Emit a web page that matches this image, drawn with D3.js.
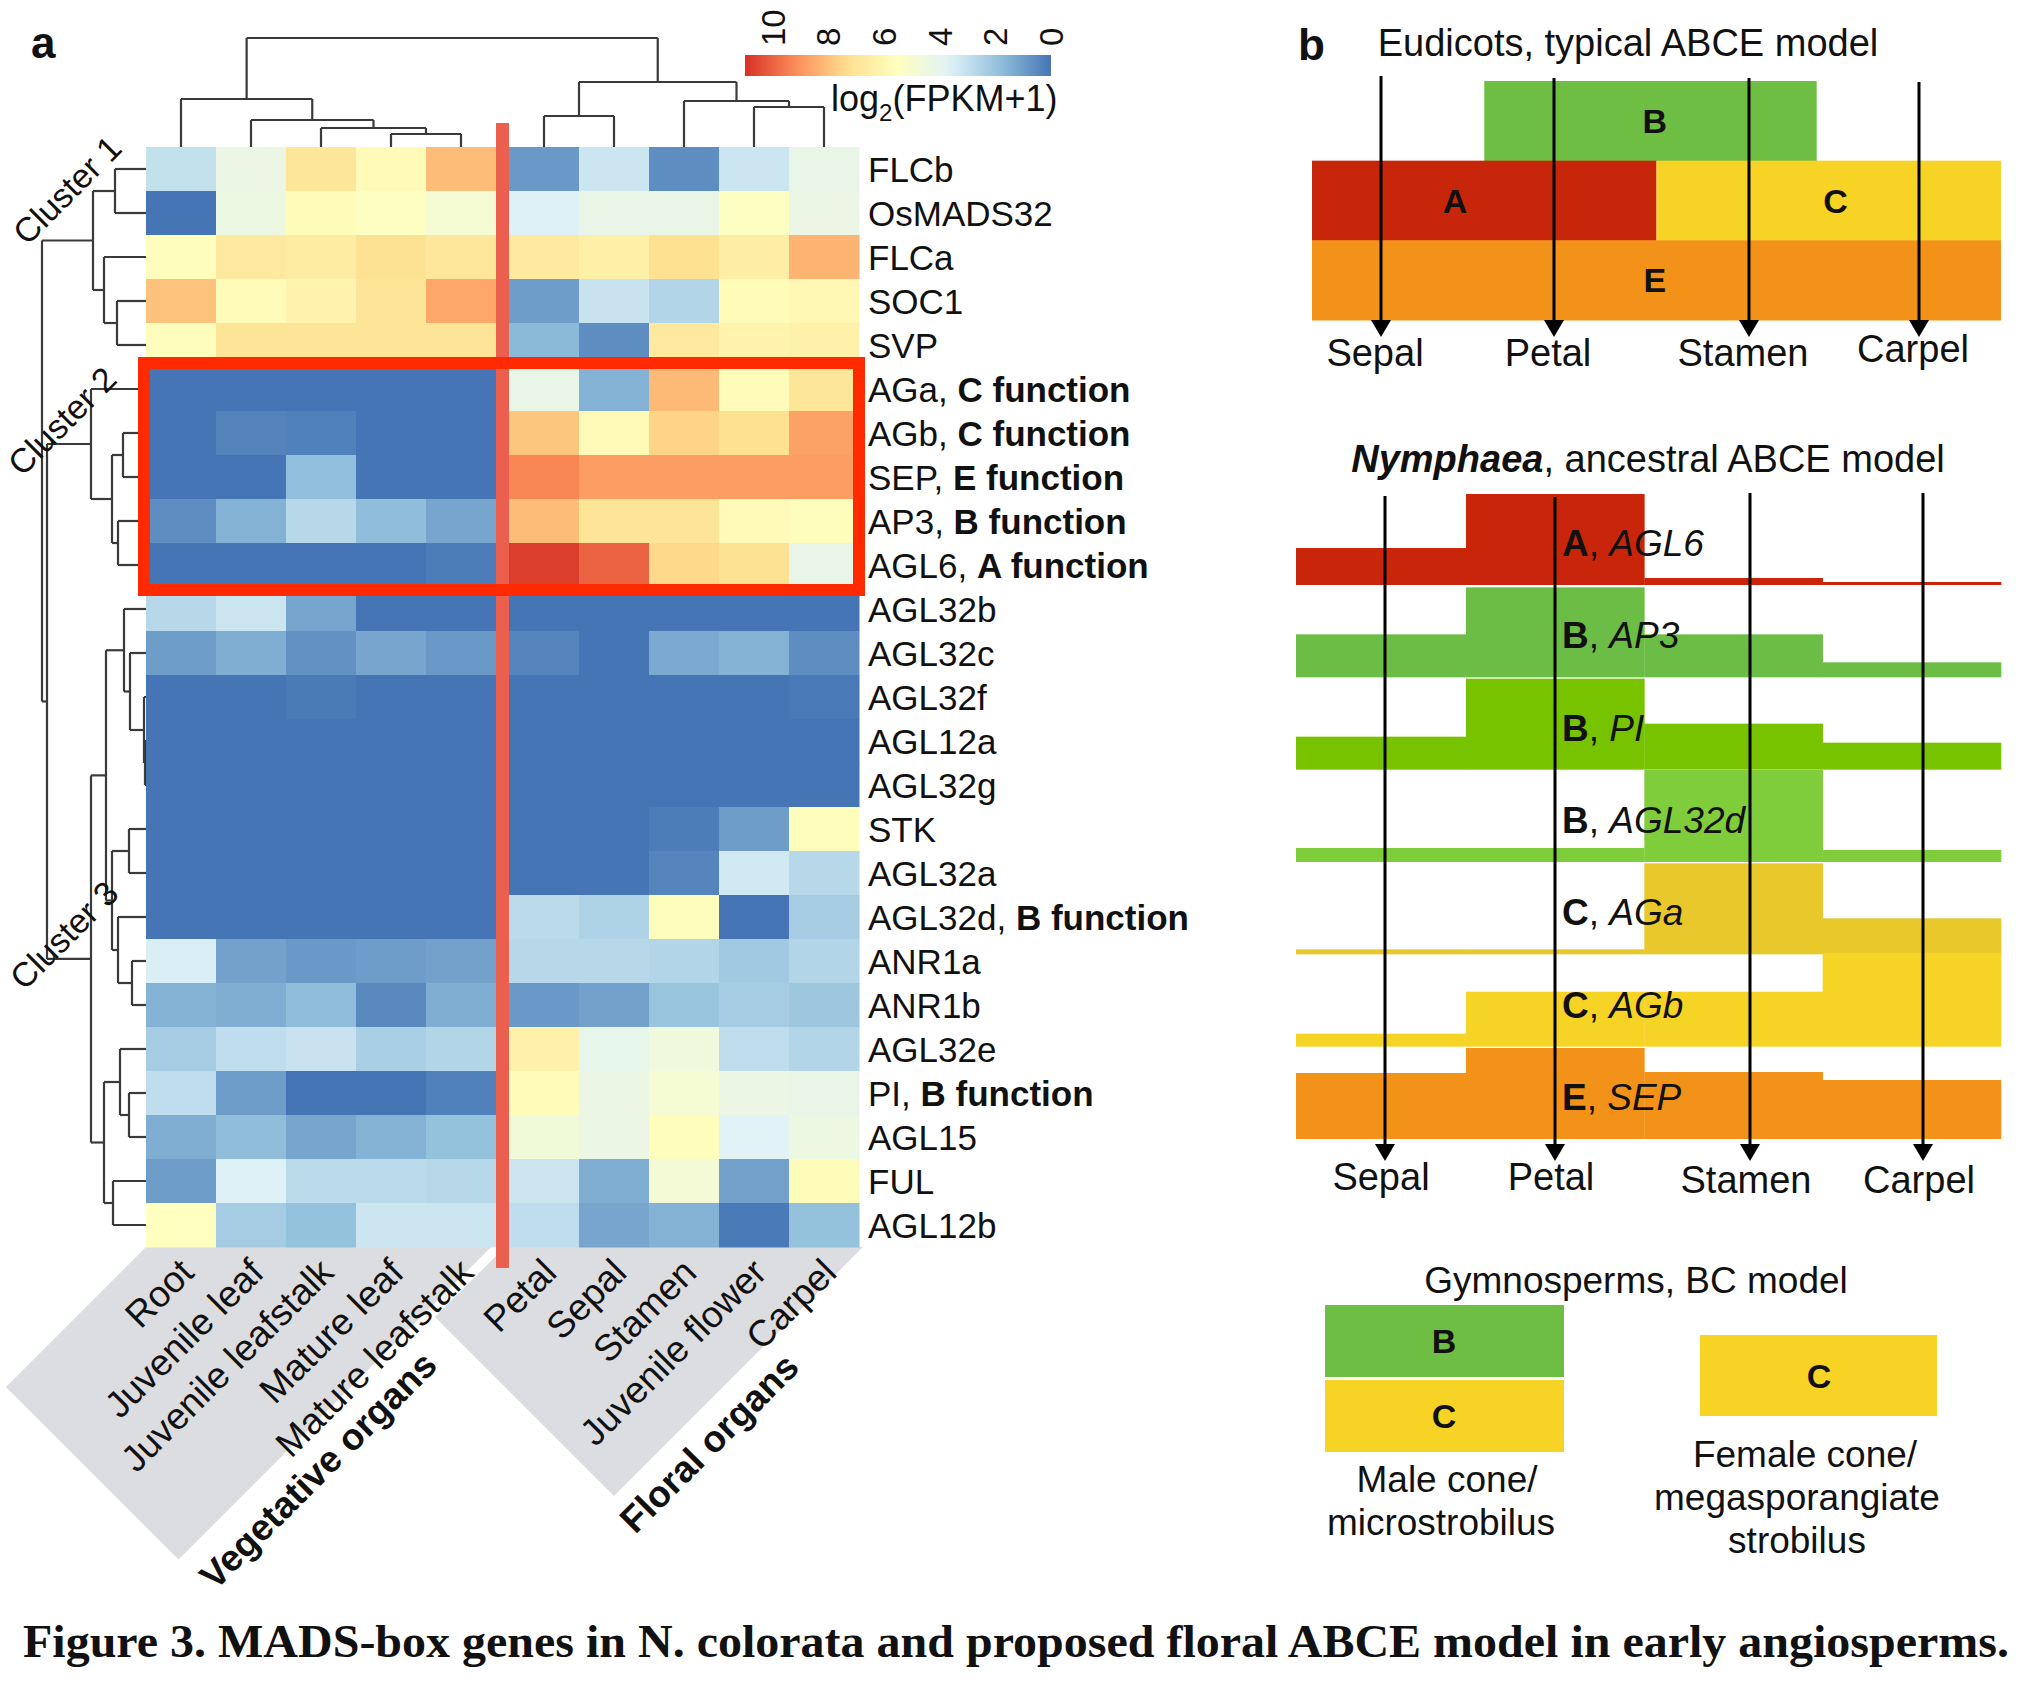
<!DOCTYPE html>
<html><head><meta charset="utf-8">
<script src="https://cdn.jsdelivr.net/npm/d3@7"></script>
<style>
body{margin:0;background:#fff}
svg{display:block}
text{font-family:"Liberation Sans",Arial,Helvetica,sans-serif;fill:#111}
</style>
</head><body>
<svg id="fig" width="2026" height="1684"></svg>
<script>
// ---------------- DATA ----------------
const genes = ["FLCb","OsMADS32","FLCa","SOC1","SVP","AGa","AGb","SEP","AP3","AGL6",
  "AGL32b","AGL32c","AGL32f","AGL12a","AGL32g","STK","AGL32a","AGL32d","ANR1a","ANR1b",
  "AGL32e","PI","AGL15","FUL","AGL12b"];
const geneRoles = ["","","","","","C function","C function","E function","B function","A function",
  "","","","","","","","B function","","","","B function","","",""];
const vegTissues = ["Root","Juvenile leaf","Juvenile leafstalk","Mature leaf","Mature leafstalk"];
const floralTissues = ["Petal","Sepal","Stamen","Juvenile flower","Carpel"];
// log2(FPKM+1), columns: 5 vegetative then 5 floral
const expr = [
  [3.0,4.3,7.0,5.8,8.1, 0.9,3.2,0.6,3.2,4.2],
  [0.0,4.4,5.7,5.4,4.9, 3.6,4.2,4.2,5.4,4.3],
  [5.6,6.8,6.6,7.2,6.9, 6.8,6.4,7.3,6.5,8.3],
  [8.0,5.7,6.2,7.1,8.6, 1.0,3.1,2.6,5.7,5.9],
  [5.6,7.1,7.1,7.1,7.1, 1.7,0.6,6.8,6.2,6.3],
  [0.0,0.0,0.0,0.0,0.0, 4.2,1.5,8.2,5.7,7.0],
  [0.0,0.35,0.3,0.0,0.0, 7.9,5.8,7.6,7.3,8.7],
  [0.0,0.0,1.85,0.0,0.0, 9.3,8.8,8.8,8.8,8.8],
  [0.6,1.5,2.7,1.8,1.2, 8.1,7.1,7.1,5.8,5.6],
  [0.0,0.0,0.0,0.0,0.2, 10.7,10.0,7.5,7.2,4.2],
  [2.7,3.2,1.2,0.0,0.0, 0.0,0.0,0.0,0.0,0.0],
  [1.0,1.4,0.7,1.2,0.9, 0.4,0.0,1.3,1.5,0.6],
  [0.0,0.0,0.15,0.0,0.0, 0.0,0.0,0.0,0.0,0.1],
  [0.0,0.0,0.0,0.0,0.0, 0.0,0.0,0.0,0.0,0.0],
  [0.0,0.0,0.0,0.0,0.0, 0.0,0.0,0.0,0.0,0.0],
  [0.0,0.0,0.0,0.0,0.0, 0.0,0.0,0.2,1.0,5.6],
  [0.0,0.0,0.0,0.0,0.0, 0.0,0.0,0.4,3.3,2.7],
  [0.0,0.0,0.0,0.0,0.0, 2.8,2.5,5.6,0.0,2.3],
  [3.5,1.1,0.9,1.0,1.1, 2.7,2.7,2.6,2.2,2.6],
  [1.5,1.4,1.8,0.5,1.4, 0.9,1.1,2.0,2.3,2.1],
  [2.3,2.9,3.1,2.4,2.6, 6.3,4.1,4.6,2.9,2.6],
  [2.9,1.0,0.0,0.0,0.3, 5.7,4.3,4.9,4.3,4.2],
  [1.4,1.8,1.2,1.5,1.9, 4.7,4.3,5.6,3.7,4.4],
  [1.0,3.6,2.8,2.8,2.7, 3.2,1.4,4.8,1.1,5.7],
  [5.5,2.3,1.9,3.2,3.2, 2.9,1.2,1.5,0.1,1.9]
];
const colorTicks = [10,8,6,4,2,0];
const colorMax = 11;
// dendrograms (merge heights)
const colTree = {h:109, c:[
  {h:48, c:["Root",{h:27,c:["Juvenile leaf",{h:19,c:["Juvenile leafstalk",{h:13,c:["Mature leaf","Mature leafstalk"]}]}]}]},
  {h:65, c:[{h:31,c:["Petal","Sepal"]},{h:46,c:["Stamen",{h:40,c:["Juvenile flower","Carpel"]}]}]}
]};
const rowTree = {h:104, c:[
  {h:53, c:[{h:31,c:["FLCb","OsMADS32"]},{h:42,c:["FLCa",{h:29,c:["SOC1","SVP"]}]}]},
  {h:99, c:[
    {h:55, c:["AGa",{h:34,c:[{h:23,c:["AGb","SEP"]},{h:28,c:["AP3","AGL6"]}]}]},
    {h:55, c:[
      {h:40, c:[
        {h:22, c:["AGL32b",{h:16,c:["AGL32c",{h:2,c:["AGL32f",{h:1,c:["AGL12a","AGL32g"]}]}]}]},
        {h:34, c:[{h:17,c:["STK","AGL32a"]},{h:28,c:["AGL32d",{h:14,c:["ANR1a","ANR1b"]}]}]}
      ]},
      {h:42, c:[{h:26,c:["AGL32e",{h:17,c:["PI","AGL15"]}]},{h:33,c:["FUL","AGL12b"]}]}
    ]}
  ]}
]};
const clusterNames = ["Cluster 1","Cluster 2","Cluster 3"];
const groupNames = ["Vegetative organs","Floral organs"];

// panel b
const organs = ["Sepal","Petal","Stamen","Carpel"];
const eudicotFn = ["B","A","C","E"];
const eudicotRow = [0,1,1,2];
const eudicotStart = [1,0,2,0];
const eudicotEnd = [2.93,2,4,4];
const eudicotLabelAt = [1.99,0.83,3.04,1.99];
const nymphFn = ["A","B","B","B","C","C","E"];
const nymphGene = ["AGL6","AP3","PI","AGL32d","AGa","AGb","SEP"];
const nymphLevels = [
  [37,91,7,3],
  [43,90,43,15],
  [33,91,46,27],
  [14,14,92,12],
  [5,5,91,36],
  [13,55,55,94],
  [66,91,67,59]
];
const gymnoMale = ["B","C"];
const gymnoFemale = ["C"];
const caption = "Figure 3. MADS-box genes in N. colorata and proposed floral ABCE model in early angiosperms.";

// ---------------- STYLE ----------------
const fnColor = {A:"#c8260a", B:"#6fbe44", C:"#f6d325", E:"#f39219"};
const nymphColors = ["#c8250a","#6cbd45","#77c300","#80cd3c","#e8c82a","#f6d426","#f39219"];
const palette = ["#4575B4","#91BFDB","#E0F3F8","#FFFFBF","#FEE090","#FC8D59","#D73027"];

const svg = d3.select("#fig");
svg.append("rect").attr("width",2026).attr("height",1684).attr("fill","#fff");

// ---------------- PANEL A ----------------
const color = d3.scaleLinear().domain(palette.map((c,i)=>i*colorMax/(palette.length-1))).range(palette).clamp(true);
const xVeg = d3.scaleBand().domain(vegTissues).range([146,496]);
const xFlo = d3.scaleBand().domain(floralTissues).range([509,859]);
const allTissues = vegTissues.concat(floralTissues);
const colX = t => vegTissues.includes(t) ? xVeg(t) : xFlo(t);
const colW = xVeg.bandwidth();
const y = d3.scaleBand().domain(genes).range([147,1247]);

const gA = svg.append("g");

// gray label backgrounds: rectangles rotated 45deg, clipped at the heatmap bottom
const hmBottom = y.range()[1];
function diagPoly(x0, x1, d) {
  const u = (x1 - x0) / 2;
  const D = [x0 - d, hmBottom + d];
  const C = [x0 - d + u, hmBottom + d + u];
  return [[x0,hmBottom],[x1,hmBottom],C,D];
}
const vegPoly = diagPoly(xVeg.range()[0], xVeg.range()[1]-5, 140);
const floPoly = diagPoly(xFlo.range()[0]-4, xFlo.range()[1]+4, 70);
[vegPoly, floPoly].forEach(p=>{
  gA.append("polygon").attr("points", p.map(q=>q.join(",")).join(" ")).attr("fill","#dcdde0");
});

// heatmap cells
genes.forEach((g,i)=>{
  allTissues.forEach((t,j)=>{
    gA.append("rect").attr("x",colX(t)).attr("y",y(g)).attr("width",colW+0.5).attr("height",y.bandwidth()+0.5)
      .attr("fill",color(expr[i][j]));
  });
});

// dendrograms
const dend = gA.append("g").attr("stroke","#3a3a3a").attr("stroke-width",2.2).attr("fill","none");
function drawTree(node, leafPos, hPos, vertical) {
  if (typeof node === "string") return {p: leafPos(node), h: 0};
  const kids = node.c.map(k => drawTree(k, leafPos, hPos, vertical));
  const hn = hPos(node.h);
  const pt = (p,h) => vertical ? [p,h] : [h,p];
  kids.forEach(k=>{
    dend.append("path").attr("d", d3.line()([pt(k.p, hPos(k.h)), pt(k.p, hn)]));
  });
  dend.append("path").attr("d", d3.line()([pt(kids[0].p, hn), pt(kids[1].p, hn)]));
  return {p: (kids[0].p + kids[1].p)/2, h: node.h};
}
const colH = d3.scaleLinear().domain([0,109]).range([147,38]);
drawTree(colTree, t => colX(t) + colW/2, colH, true);
const rowH = d3.scaleLinear().domain([0,104]).range([146,42]);
drawTree(rowTree, g => y(g) + y.bandwidth()/2, rowH, false);

// red separator line
gA.append("rect").attr("x",xVeg.range()[1]).attr("y",123).attr("width",xFlo.range()[0]-xVeg.range()[1])
  .attr("height",1268-123).attr("fill","#ea5f4e");

// red highlight box around cluster 2
const boxTop = y("AGa"), boxBot = y("AGL6") + y.bandwidth();
gA.append("rect").attr("x",xVeg.range()[0]-2).attr("y",boxTop-4)
  .attr("width",xFlo.range()[1]-xVeg.range()[0]+2).attr("height",boxBot-boxTop+7)
  .attr("fill","none").attr("stroke","#ff2a00").attr("stroke-width",12);

// gene labels
genes.forEach((g,i)=>{
  const t = gA.append("text").attr("x",868).attr("y",y(g)+y.bandwidth()/2).attr("dy","0.36em")
    .attr("font-size",35);
  t.append("tspan").text(g + (geneRoles[i] ? ", " : ""));
  if (geneRoles[i]) t.append("tspan").attr("font-weight","bold").text(geneRoles[i]);
});

// column labels
allTissues.forEach(t=>{
  gA.append("text").attr("transform",`translate(${colX(t)+colW/2-4},1256) rotate(-45)`)
    .attr("text-anchor","end").attr("dominant-baseline","hanging").attr("font-size",37).text(t);
});
// group labels
[[groupNames[0],318,1470],[groupNames[1],709,1443]].forEach(([s,cx,cy])=>{
  gA.append("text").attr("transform",`translate(${cx},${cy}) rotate(-45)`)
    .attr("text-anchor","middle").attr("dy","0.35em").attr("font-size",37).attr("font-weight","bold").text(s);
});
// cluster labels
[[67,190],[62,421],[64,935]].forEach(([cx,cy],i)=>{
  gA.append("text").attr("transform",`translate(${cx},${cy}) rotate(-45)`)
    .attr("text-anchor","middle").attr("dy","0.35em").attr("font-size",34).text(clusterNames[i]);
});

// colour bar
const cbX = d3.scaleLinear().domain([0,colorMax]).range([1051,745]);
const defs = svg.append("defs");
const grad = defs.append("linearGradient").attr("id","cb").attr("x1","0%").attr("x2","100%");
d3.range(0,1.0001,0.05).forEach(f=>{
  const v = colorMax*(1-f);
  grad.append("stop").attr("offset",(f*100)+"%").attr("stop-color",color(v));
});
gA.append("rect").attr("x",cbX(colorMax)).attr("y",55).attr("width",cbX(0)-cbX(colorMax)).attr("height",21)
  .attr("fill","url(#cb)");
colorTicks.forEach(v=>{
  gA.append("text").attr("transform",`translate(${cbX(v)},46) rotate(-90)`)
    .attr("text-anchor","start").attr("dy","0.36em").attr("font-size",33).text(v);
});
const lg = gA.append("text").attr("x",831).attr("y",111).attr("font-size",36);
lg.append("tspan").text("log");
lg.append("tspan").attr("font-size",24).attr("dy",10).text("2");
lg.append("tspan").attr("dy",-10).text("(FPKM+1)");

gA.append("text").attr("x",31).attr("y",58).attr("font-size",44).attr("font-weight","bold").text("a");

// ---------------- PANEL B ----------------
const gB = svg.append("g");
gB.append("text").attr("x",1298).attr("y",60).attr("font-size",44).attr("font-weight","bold").text("b");
gB.append("text").attr("x",1628).attr("y",56).attr("text-anchor","middle").attr("font-size",38)
  .text("Eudicots, typical ABCE model");

// eudicot blocks
const eX = d3.scaleLinear().domain([0,4]).range([1312,2001]);
const eRow = d3.scaleLinear().domain([0,3]).range([81,320]);
eudicotFn.forEach((f,i)=>{
  gB.append("rect").attr("x",eX(eudicotStart[i])).attr("y",eRow(eudicotRow[i]))
    .attr("width",eX(eudicotEnd[i])-eX(eudicotStart[i])).attr("height",eRow(1)-eRow(0)+0.5).attr("fill",fnColor[f]);
});
eudicotFn.forEach((f,i)=>{
  gB.append("text").attr("x",eX(eudicotLabelAt[i])).attr("y",(eRow(eudicotRow[i])+eRow(eudicotRow[i]+1))/2)
    .attr("dy","0.36em").attr("text-anchor","middle").attr("font-size",34).attr("font-weight","bold").text(f);
});
const organXn = d3.scaleOrdinal().domain(organs).range([1385,1555,1750,1923]);
const organXe = d3.scaleOrdinal().domain(organs).range([1381,1554,1749,1919]);

function arrow(g, x, y0, y1) {
  g.append("line").attr("x1",x).attr("x2",x).attr("y1",y0).attr("y2",y1-14).attr("stroke","#000").attr("stroke-width",3);
  g.append("path").attr("d",`M${x-10},${y1-17} L${x+10},${y1-17} L${x},${y1} Z`).attr("fill","#000");
}
const eTops = [76,78,78,82];
organs.forEach((o,i)=>{
  arrow(gB, organXe(o), eTops[i], 337);
  gB.append("text").attr("x",organXe(o)-6).attr("y",i===3?362:366).attr("text-anchor","middle").attr("font-size",38).text(o);
});

// Nymphaea
const nt = gB.append("text").attr("x",1648).attr("y",472).attr("text-anchor","middle").attr("font-size",38);
nt.append("tspan").attr("font-weight","bold").attr("font-style","italic").text("Nymphaea");
nt.append("tspan").text(", ancestral ABCE model");

const zoneX = d3.scaleLinear().domain([0,1,4]).range([1296,1466,2001]);
const bandBottom = d3.scaleLinear().domain([0,6]).range([585,1139]);
const lvl = d3.scaleLinear().domain([0,1]).range([0,1]);
nymphGene.forEach((g,i)=>{
  nymphLevels[i].forEach((v,z)=>{
    gB.append("rect").attr("x",zoneX(z)).attr("y",bandBottom(i)-lvl(v)).attr("width",zoneX(z+1)-zoneX(z)+0.3)
      .attr("height",lvl(v)).attr("fill",nymphColors[i]);
  });
});
const nTops = [496,497,493,493];
organs.forEach((o,i)=>{
  arrow(gB, organXn(o), nTops[i], 1161);
  gB.append("text").attr("x",organXn(o)-4).attr("y",i<2?1190:1193).attr("text-anchor","middle").attr("font-size",38).text(o);
});
nymphGene.forEach((g,i)=>{
  const t = gB.append("text").attr("x",1562).attr("y",bandBottom(i)-29).attr("font-size",37);
  t.append("tspan").attr("font-weight","bold").text(nymphFn[i]);
  t.append("tspan").text(", ");
  t.append("tspan").attr("font-style","italic").text(g);
});

// Gymnosperms
gB.append("text").attr("x",1636).attr("y",1293).attr("text-anchor","middle").attr("font-size",37).text("Gymnosperms, BC model");
const maleY = d3.scaleBand().domain(gymnoMale).range([1305,1452]).paddingInner(0.04);
gymnoMale.forEach(f=>{
  gB.append("rect").attr("x",1325).attr("y",maleY(f)).attr("width",239).attr("height",maleY.bandwidth()).attr("fill",fnColor[f]);
  gB.append("text").attr("x",1444).attr("y",maleY(f)+maleY.bandwidth()/2).attr("dy","0.36em").attr("text-anchor","middle")
    .attr("font-size",34).attr("font-weight","bold").text(f);
});
gymnoFemale.forEach(f=>{
  gB.append("rect").attr("x",1700).attr("y",1335).attr("width",237).attr("height",81).attr("fill",fnColor[f]);
  gB.append("text").attr("x",1819).attr("y",1376).attr("dy","0.36em").attr("text-anchor","middle")
    .attr("font-size",34).attr("font-weight","bold").text(f);
});
[["Male cone/",1447,1492],["microstrobilus",1441,1535]].forEach(([s,x,yy])=>{
  gB.append("text").attr("x",x).attr("y",yy).attr("text-anchor","middle").attr("font-size",37).text(s);
});
[["Female cone/",1805,1467],["megasporangiate",1797,1510],["strobilus",1797,1553]].forEach(([s,x,yy])=>{
  gB.append("text").attr("x",x).attr("y",yy).attr("text-anchor","middle").attr("font-size",37).text(s);
});

// caption
svg.append("text").attr("x",23).attr("y",1657).attr("font-size",46).attr("font-weight","bold")
  .attr("textLength",1986).attr("lengthAdjust","spacingAndGlyphs")
  .style("font-family","'Liberation Serif','Times New Roman',serif").text(caption);
</script>
</body></html>
